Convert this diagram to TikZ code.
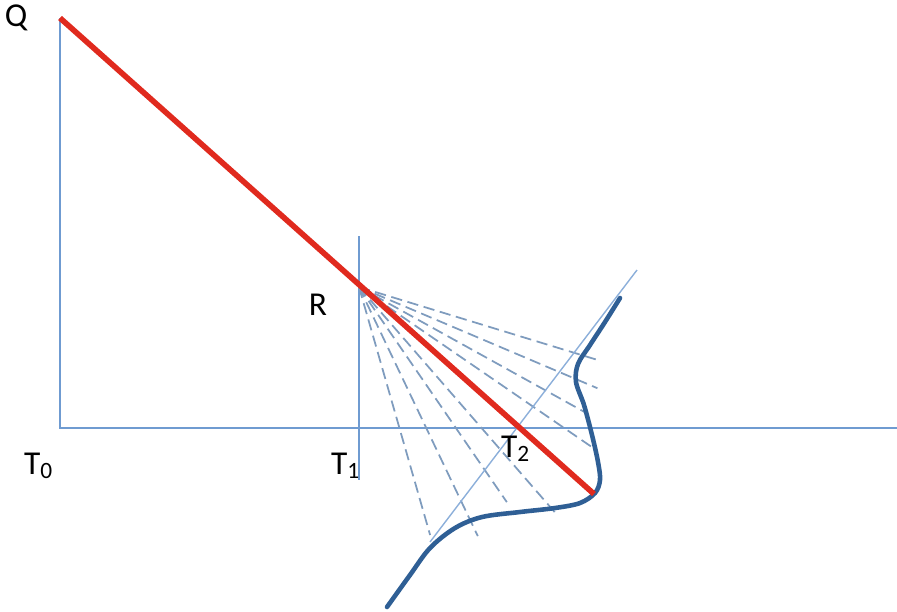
\documentclass[tikz,border=0pt]{standalone}
\usepackage{fontspec}
\setmainfont{Carlito}
\usepackage{tikz}
\usetikzlibrary{calc}
\definecolor{axisblue}{HTML}{6F9BD1}
\definecolor{fanblue}{HTML}{7F9CBE}
\definecolor{curveblue}{HTML}{2F5F95}
\definecolor{redline}{HTML}{E02A1E}
\tikzset{
  axis/.style={line width=0.6pt, draw=axisblue},
  ray/.style={line width=0.5pt, draw=fanblue, dash pattern=on 3.2pt off 1.6pt},
  chord/.style={line width=0.4pt, draw=axisblue!80},
  redpath/.style={line width=1.6pt, draw=redline},
  profile/.style={line width=1.3pt, draw=curveblue, line cap=round},
  lbl/.style={font=\fontsize{9.5}{11}\selectfont, text=black, inner sep=1pt},
}

\begin{document}
\begin{tikzpicture}[x=0.01cm, y=-0.01cm]
  \useasboundingbox (0,0) rectangle (897,611);
  % axes and points
  \coordinate (Q) at (60,18);
  \coordinate (O) at (60,428);
  \coordinate (X) at (897,428);
  \coordinate (R) at (359,287);
  \coordinate (Rtop) at (359,236);
  \coordinate (Rbot) at (359,480);
  \coordinate (P) at (594,494);
  \draw[axis] (Q) -- (O) -- (X);
  \draw[axis] (Rtop) -- (Rbot);
  % fan of rays from R
  \foreach \a/\r in {17/249,23/259,29/261,34.5/283,49/302,55.5/261,64.5/276,74/258}{
    \draw[ray] (R) -- ($(R)+(\a:\r)$);
  }
  % thin chord
  \coordinate (C1) at (430,542);
  \coordinate (C2) at (637,270);
  \draw[chord] (C1) -- (C2);
  % profile curve
  \draw[profile] plot[smooth, tension=0.55] coordinates {
    (387,607) (410,575) (430,548) (455,528) (482,517) (520,512)
    (555,508) (580,503) (595,493) (600,480) (598,462) (592,435)
    (584,405) (576,382) (578,364) (590,345) (605,322) (620,298)};
  % red line
  \draw[redpath] (Q) -- (P);
  % labels
  \node[lbl] (lQ) at (16,18) {Q};
  \node[lbl] (lR) at (318,305) {R};
  \node[lbl] (lT0) at (39,466) {T\textsubscript{0}};
  \node[lbl] (lT1) at (346,466) {T\textsubscript{1}};
  \node[lbl] (lT2) at (516,449) {T\textsubscript{2}};
\end{tikzpicture}
\end{document}
